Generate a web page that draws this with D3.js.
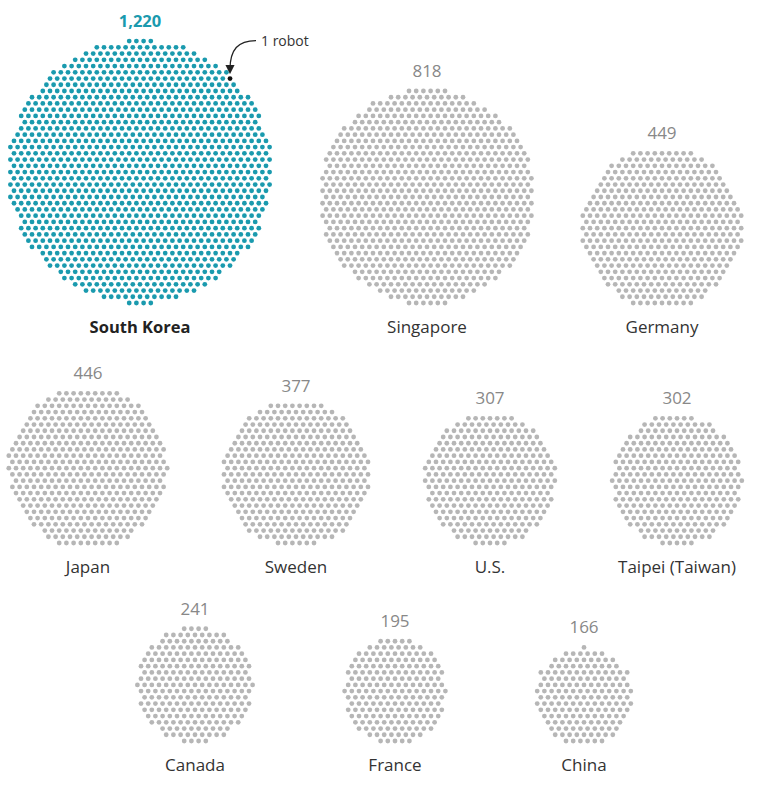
<!DOCTYPE html>
<html>
  <head>
    <title>Robots per 10,000 workers</title>
    <script src="https://d3js.org/d3.v7.min.js"></script>
    <style>
      body { margin: 0; background: #fff; }
      text { font-family: "Open Sans", "Noto Sans", sans-serif; }
    </style>
  </head>
  <body>
    <script>
      const countries = ['South Korea', 'Singapore', 'Germany', 'Japan', 'Sweden', 'U.S.', 'Taipei (Taiwan)', 'Canada', 'France', 'China'];
      const values = [1220, 818, 449, 446, 377, 307, 302, 241, 195, 166];
      const highlight = 'South Korea';

      // layout: cluster centre x and dot-bottom y for each country
      const layout = [
        [140, 303], [427, 303], [662, 303],
        [88, 543], [296, 543], [490, 543], [677, 543],
        [195, 741], [395, 741], [584, 741]
      ];

      const w = 763, h = 788;
      const dx = 7.2, dy = dx * Math.sqrt(3) / 2, r = 2.4;

      const svg = d3.select('body').append('svg')
                    .attr('width', w)
                    .attr('height', h);

      // hex lattice filled from the middle outwards
      function hexDots(n) {
        const R = Math.ceil(Math.sqrt(n) + 4);
        const pts = [];
        for (let j = -R; j <= R; j++) {
          for (let i = -R; i <= R; i++) {
            const x = (i + (Math.abs(j) % 2 ? 0.5 : 0)) * dx;
            const y = j * dy;
            pts.push({x, y, d: Math.hypot(x, y)});
          }
        }
        pts.sort((a, b) => a.d - b.d || a.y - b.y || a.x - b.x);
        return pts.slice(0, n);
      }

      countries.forEach((name, k) => {
        const n = values[k];
        const pts = hexDots(n);
        const ext = d3.extent(pts, p => p.y);
        const [cx, bottom] = layout[k];
        const oy = bottom - ext[1];
        const hot = name === highlight;

        const g = svg.append('g').attr('transform', `translate(${cx},${oy})`);

        let marker = null;
        if (hot) {
          // the dot nearest the annotation's target
          const tx = 234 - cx, ty = 78 - oy;
          marker = d3.least(pts, p => Math.hypot(p.x - tx, p.y - ty));
        }

        g.selectAll('circle')
         .data(pts)
         .join('circle')
         .attr('cx', d => d.x)
         .attr('cy', d => d.y)
         .attr('r', r)
         .attr('fill', d => d === marker ? '#111' : (hot ? '#1a9aae' : '#b6b6b6'));

        g.append('text')
         .attr('x', 0)
         .attr('y', ext[0] - 14)
         .attr('text-anchor', 'middle')
         .attr('font-size', hot ? 16.5 : 17)
         .attr('font-weight', hot ? 700 : 400)
         .attr('fill', hot ? '#1a9aae' : '#888')
         .text(d3.format(',')(n));

        g.append('text')
         .attr('x', 0)
         .attr('y', ext[1] + 30)
         .attr('text-anchor', 'middle')
         .attr('font-size', hot ? 16.5 : 17)
         .attr('font-weight', hot ? 700 : 400)
         .attr('fill', hot ? '#222' : '#333')
         .text(name);

        if (hot) {
          const mx = cx + marker.x, my = oy + marker.y;
          svg.append('defs').append('marker')
             .attr('id', 'arrow')
             .attr('viewBox', '0 0 10 10')
             .attr('refX', 5).attr('refY', 5)
             .attr('markerWidth', 7).attr('markerHeight', 7)
             .attr('orient', 'auto-start-reverse')
             .append('path')
             .attr('d', 'M0,0 L10,5 L0,10 z')
             .attr('fill', '#222');
          svg.append('path')
             .attr('d', `M${mx + 26},${my - 38} C${mx + 8},${my - 38} ${mx},${my - 29} ${mx},${my - 9}`)
             .attr('fill', 'none')
             .attr('stroke', '#222')
             .attr('stroke-width', 1.3)
             .attr('marker-end', 'url(#arrow)');
          svg.append('text')
             .attr('x', mx + 31)
             .attr('y', my - 33)
             .attr('font-size', 14)
             .attr('fill', '#333')
             .text('1 robot');
        }
      });
    </script>
  </body>
</html>
